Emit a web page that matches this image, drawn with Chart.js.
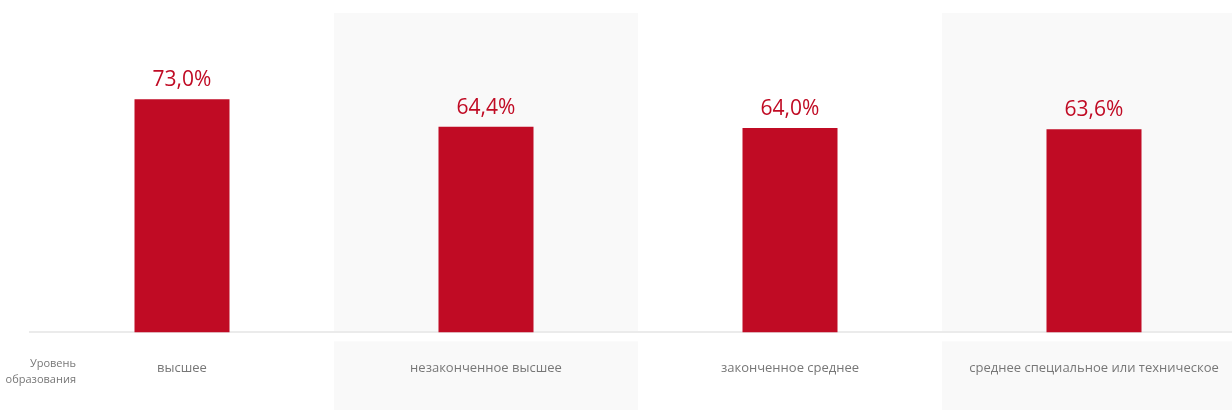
<!DOCTYPE html>
<html>
<head>
<meta charset="utf-8">
<script src="https://cdn.jsdelivr.net/npm/chart.js@4"></script>
<style>
    body { margin: 0; background: #fff; overflow: hidden; }
    #wrap { width: 1232px; height: 411px; overflow: hidden; }
</style>
</head>
<body>
<div id="wrap"><canvas id="eduChart" width="1246" height="411"></canvas></div>
<script>
const categories = ['высшее', 'незаконченное высшее', 'законченное среднее', 'среднее специальное или техническое'];
const shares = [73.0, 64.4, 64.0, 63.6];
const axisTitle = ['Уровень', 'образования'];

const RED = '#c00b24';
const BAND = '#f9f9f9';

// grey stripes behind every second column, top part and label part
const bandsPlugin = {
    id: 'bands',
    beforeDraw(chart) {
        const { ctx, chartArea, scales } = chart;
        const x = scales.x;
        const step = x.getPixelForTick(1) - x.getPixelForTick(0);
        ctx.save();
        ctx.fillStyle = BAND;
        categories.forEach((c, i) => {
            if (i % 2 === 0) return;
            const left = x.getPixelForTick(i) - step / 2;
            ctx.fillRect(left, chartArea.top, step, chartArea.bottom - chartArea.top);
            ctx.fillRect(left, chartArea.bottom + 9, step, chart.height - chartArea.bottom - 10);
        });
        ctx.restore();
    }
};

const labelsPlugin = {
    id: 'valueLabels',
    afterDatasetsDraw(chart) {
        const { ctx, chartArea } = chart;
        const meta = chart.getDatasetMeta(0);
        ctx.save();
        ctx.font = '21px "Open Sans"';
        ctx.fillStyle = RED;
        ctx.textAlign = 'center';
        ctx.textBaseline = 'alphabetic';
        meta.data.forEach((bar, i) => {
            ctx.fillText(shares[i].toFixed(1).replace('.', ',') + '%', bar.x, bar.y - 13);
        });
        // axis caption on the left
        ctx.font = '11px "Open Sans"';
        ctx.fillStyle = '#777';
        ctx.textAlign = 'right';
        ctx.fillText(axisTitle[0], 76, chartArea.bottom + 35);
        ctx.fillText(axisTitle[1], 76, chartArea.bottom + 51);
        ctx.restore();
    }
};

const chart = new Chart(document.getElementById('eduChart'), {
    type: 'bar',
    data: {
        labels: categories,
        datasets: [{
            data: shares,
            backgroundColor: RED,
            barPercentage: 0.3125,
            categoryPercentage: 1
        }]
    },
    options: {
        responsive: false,
        animation: false,
        layout: { padding: { left: 30, right: 0, top: 13, bottom: 15 } },
        plugins: { legend: { display: false }, tooltip: { enabled: false } },
        scales: {
            x: {
                grid: { display: false },
                border: { display: true, color: '#ebebeb', width: 2 },
                ticks: {
                    color: '#777',
                    font: { family: 'Open Sans', size: 13 },
                    padding: 20,
                    maxRotation: 0,
                    autoSkip: false
                }
            },
            y: {
                display: false,
                min: 0,
                max: 100
            }
        }
    },
    plugins: [bandsPlugin, labelsPlugin]
});
</script>
</body>
</html>
